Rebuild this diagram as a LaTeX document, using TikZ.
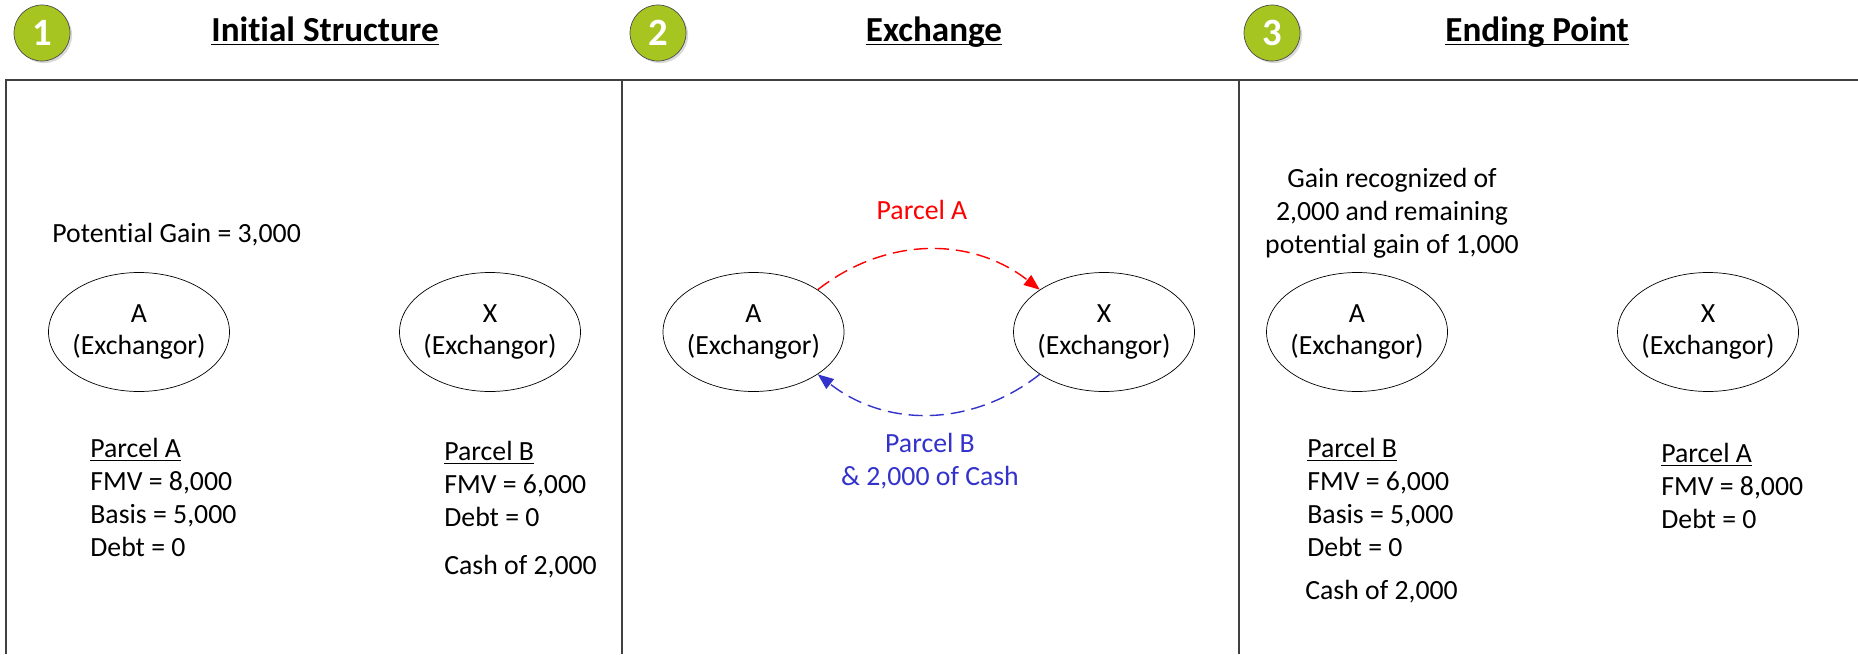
\documentclass[tikz,border=0pt]{standalone}
\usepackage{fontspec}
\setmainfont[Ligatures=NoCommon]{Carlito}
\usetikzlibrary{arrows.meta,shadows,shapes.geometric}
\definecolor{badgegreen}{HTML}{A6C520}
\definecolor{parcelblue}{HTML}{3333CC}
\newcommand{\headtext}[1]{\underline{\smash{#1}}}
\tikzset{
     party/.style={draw, ellipse, minimum width=181*0.02cm, minimum height=119*0.02cm, inner xsep=-4pt, inner ysep=0pt, align=center, font=\fontsize{15.8}{18.7}\selectfont},
     badge/.style={draw=black!70, circle, fill=badgegreen, minimum size=56*0.02cm, inner sep=0pt, text=white, font=\bfseries\fontsize{22}{26}\selectfont, drop shadow={shadow xshift=1.2pt, shadow yshift=-1.2pt, opacity=.3}},
     heading/.style={inner sep=0pt, anchor=base, font=\bfseries\fontsize{20}{24}\selectfont},
     infotext/.style={inner sep=0pt, align=left, anchor=north west, font=\fontsize{15.8}{18.7}\selectfont},
     swap/.style={-{Triangle[length=9pt,width=7pt]}, line width=0.8pt, dash pattern=on 8pt off 4pt},
}
\begin{document}
\begin{tikzpicture}[x=0.02cm, y=0.02cm]
     \useasboundingbox (0,0) rectangle (1858,654);
     % panels
     \draw[draw=black!75, line width=1pt] (6,0)--(6,574)--(1858,574);
     \draw[draw=black!75, line width=1pt] (622,574)--(622,0);
     \draw[draw=black!75, line width=1pt] (1239,574)--(1239,0);
     % headings
     \node[badge] (badge1) at (42,621) {1};
     \node[badge] (badge2) at (658,621) {2};
     \node[badge] (badge3) at (1272,621) {3};
     \node[heading] (title1) at (325,612.5) {\headtext{Initial Structure}};
     \node[heading] (title2) at (934,612.5) {\headtext{Exchange}};
     \node[heading] (title3) at (1537,612.5) {\headtext{Ending Point}};
     % first panel
     \node[infotext, anchor=west] (gain1) at (52,419) {Potential Gain = 3,000};
     \node[party] (a1) at (139,322) {A\\(Exchangor)};
     \node[party] (x1) at (490,322) {X\\(Exchangor)};
     \node[infotext] (parcela1) at (90,216) {\underline{Parcel A}\\FMV = 8,000\\Basis = 5,000\\Debt = 0};
     \node[infotext] (parcelb1) at (444,213) {\underline{Parcel B}\\FMV = 6,000\\Debt = 0};
     \node[infotext, anchor=west] (cash1) at (444,87) {Cash of 2,000};
     % second panel
     \node[party] (a2) at (753.5,322) {A\\(Exchangor)};
     \node[party] (x2) at (1104,322) {X\\(Exchangor)};
     \draw[swap, red] (a2.north east) to[out=38, in=142] (x2.north west);
     \draw[swap, parcelblue] (x2.south west) to[out=-142, in=-38] (a2.south east);
     \node[infotext, anchor=center, text=red] (parcela2) at (922,444) {Parcel A};
     \node[infotext, anchor=center, align=center, text=parcelblue] (parcelb2) at (930,193) {Parcel B\\\& 2,000 of Cash};
     % third panel
     \node[infotext, anchor=center, align=center] (gain3) at (1392,441) {Gain recognized of\\2,000 and remaining\\potential gain of 1,000};
     \node[party] (a3) at (1357,322) {A\\(Exchangor)};
     \node[party] (x3) at (1708,322) {X\\(Exchangor)};
     \node[infotext] (parcelb3) at (1307,216) {\underline{Parcel B}\\FMV = 6,000\\Basis = 5,000\\Debt = 0};
     \node[infotext] (parcela3) at (1661,211) {\underline{Parcel A}\\FMV = 8,000\\Debt = 0};
     \node[infotext, anchor=west] (cash3) at (1305,62) {Cash of 2,000};
\end{tikzpicture}
\end{document}
